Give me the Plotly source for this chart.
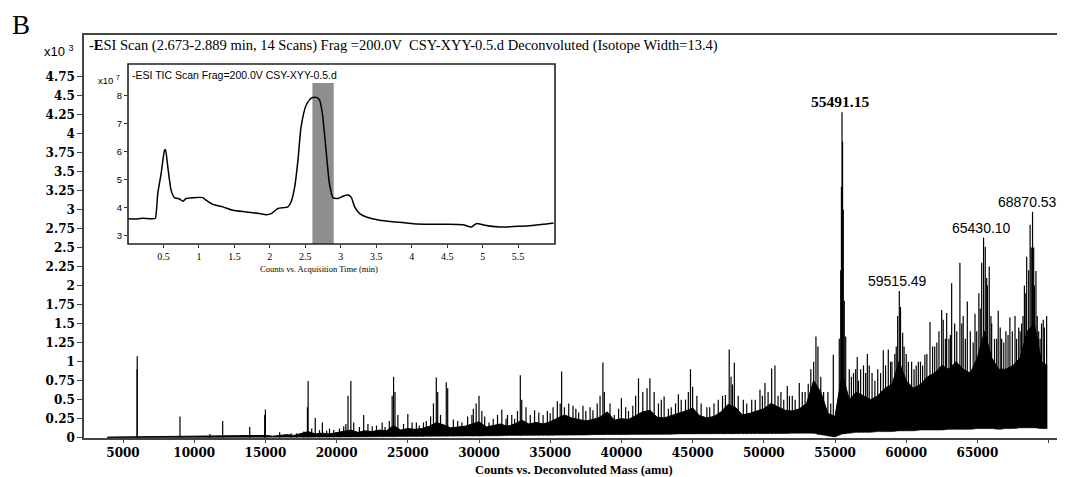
import plotly.graph_objects as go

# ---------------- data ----------------
# Main spectrum, intensities in counts x10^3
band_mass = [3900, 5000, 6000, 7000, 8000, 9000, 10000, 11000, 12000, 13000, 14000,
             15000, 15500, 16000, 16500, 17000, 17500, 18000, 18500, 19000, 19500,
             20000, 20500, 21000, 21500, 22000, 22500, 23000, 23500, 24000, 24500,
             25000, 25500, 26000, 26500, 27000, 27500, 28000, 28500, 29000, 29500,
             30000, 30500, 31000, 31500, 32000, 32500, 33000, 33500, 34000, 34500,
             35000, 35500, 36000, 36500, 37000, 37500, 38000, 38500, 39000, 39500,
             40000, 40500, 41000, 41500, 42000, 42500, 43000, 43500, 44000, 44500,
             45000, 45500, 46000, 46500, 47000, 47500, 48000, 48500, 49000, 49500,
             50000, 50500, 51000, 51500, 52000, 52500, 53000, 53500, 54000, 54500,
             55000, 55500, 56000, 56500, 57000, 57500, 58000, 58500, 59000, 59500,
             60000, 60500, 61000, 61500, 62000, 62500, 63000, 63500, 64000, 64500,
             65000, 65500, 66000, 66500, 67000, 67500, 68000, 68500, 69000, 69500, 69900]
band_high = [0.008, 0.01, 0.01, 0.01, 0.012, 0.012, 0.012, 0.015, 0.02, 0.02, 0.025,
             0.03, 0.02, 0.03, 0.04, 0.03, 0.05, 0.08, 0.05, 0.06, 0.05,
             0.07, 0.08, 0.10, 0.07, 0.09, 0.08, 0.10, 0.09, 0.16, 0.10,
             0.12, 0.11, 0.12, 0.15, 0.20, 0.17, 0.13, 0.14, 0.15, 0.18,
             0.21, 0.14, 0.16, 0.18, 0.15, 0.18, 0.23, 0.18, 0.20, 0.18,
             0.21, 0.26, 0.30, 0.26, 0.24, 0.22, 0.24, 0.27, 0.34, 0.23,
             0.25, 0.24, 0.29, 0.34, 0.36, 0.27, 0.26, 0.29, 0.31, 0.35,
             0.39, 0.29, 0.26, 0.28, 0.34, 0.44, 0.40, 0.30, 0.32, 0.35,
             0.38, 0.45, 0.40, 0.36, 0.35, 0.38, 0.45, 0.75, 0.60, 0.32,
             0.28, 0.85, 0.50, 0.60, 0.55, 0.50, 0.55, 0.65, 0.70, 1.00,
             0.75, 0.65, 0.70, 0.80, 0.85, 0.95, 0.90, 1.00, 0.90, 0.85,
             1.05, 1.40, 1.05, 0.90, 0.90, 0.95, 1.05, 1.40, 1.50, 1.00, 0.95]
band_low = [0.0, 0.0, 0.0, 0.0, 0.0, 0.0, 0.0, 0.0, 0.0, 0.0, 0.0,
            0.003, 0.003, 0.003, 0.003, 0.003, 0.004, 0.005, 0.005, 0.005, 0.005,
            0.006, 0.008, 0.01, 0.01, 0.01, 0.012, 0.012, 0.012, 0.015, 0.015,
            0.015, 0.015, 0.015, 0.018, 0.02, 0.02, 0.02, 0.02, 0.02, 0.02,
            0.02, 0.025, 0.025, 0.025, 0.03, 0.03, 0.03, 0.03, 0.03, 0.03,
            0.03, 0.035, 0.035, 0.035, 0.035, 0.035, 0.04, 0.04, 0.04, 0.04,
            0.04, 0.04, 0.045, 0.045, 0.045, 0.045, 0.045, 0.045, 0.05, 0.05,
            0.05, 0.05, 0.05, 0.05, 0.05, 0.05, 0.05, 0.05, 0.05, 0.05,
            0.05, 0.05, 0.055, 0.055, 0.06, 0.06, 0.06, 0.06, 0.04, 0.02,
            0.01, 0.05, 0.06, 0.07, 0.07, 0.07, 0.08, 0.08, 0.08, 0.09,
            0.09, 0.09, 0.10, 0.10, 0.10, 0.10, 0.11, 0.11, 0.11, 0.11,
            0.12, 0.12, 0.12, 0.11, 0.12, 0.12, 0.13, 0.13, 0.13, 0.12, 0.12]

# prominent peaks
spike_mass = [5990, 6000, 9000, 11100, 12000, 13900, 14950, 15000, 16000, 16800,
              17950, 18000, 18500, 19000, 19500, 20500, 20800, 21000, 21900, 22500,
              23200, 23900, 24000, 24100, 25000, 25600, 26300, 26800, 27000, 27100,
              27700, 27800, 28500, 29200, 29800, 30000, 30200, 30700, 31600, 32000,
              32500, 32900, 33000, 33900, 34500, 35000, 35500, 35800, 36000, 36600,
              37000, 37500, 38000, 38700, 38800, 39500, 40000, 40500, 41200, 41800,
              42000, 42300, 43000, 43500, 44000, 44500, 44850, 45000, 45300, 46000,
              46800, 47300, 47570, 47700, 47930, 48560, 49150, 49730, 50080, 50550,
              50780, 51200, 51650, 52000, 52490, 52700, 53120, 53500, 53660, 53800,
              54000, 54500, 54880, 55300, 55400, 55450, 55491, 55530, 55580, 55650,
              55750, 56000, 56300, 56560, 56800, 57000, 57270, 57600, 58000, 58390,
              58740, 59000, 59200, 59400, 59515, 59600, 59750, 60000, 60380, 60700,
              61000, 61310, 61670, 62000, 62300, 62490, 62600, 62840, 63000, 63190,
              63400, 63770, 64000, 64290, 64500, 64830, 65100, 65300, 65430, 65550,
              65700, 65830, 66000, 66200, 66460, 66700, 67000, 67280, 67640, 67900,
              68100, 68300, 68460, 68600, 68700, 68870, 68950, 69110, 69300, 69500,
              69620, 69860]
spike_height = [0.90, 1.07, 0.28, 0.05, 0.22, 0.14, 0.30, 0.37, 0.07, 0.06,
                0.40, 0.745, 0.26, 0.20, 0.12, 0.15, 0.55, 0.745, 0.30, 0.15,
                0.20, 0.55, 0.80, 0.60, 0.31, 0.20, 0.22, 0.45, 0.79, 0.60,
                0.73, 0.65, 0.22, 0.28, 0.45, 0.55, 0.35, 0.20, 0.37, 0.30,
                0.25, 0.82, 0.50, 0.36, 0.30, 0.32, 0.48, 0.87, 0.40, 0.42,
                0.33, 0.35, 0.36, 0.99, 0.60, 0.30, 0.52, 0.35, 0.78, 0.65,
                0.78, 0.60, 0.54, 0.40, 0.57, 0.50, 0.90, 0.67, 0.55, 0.40,
                0.50, 0.56, 1.16, 0.80, 0.99, 0.50, 0.50, 0.63, 0.72, 0.91,
                0.95, 0.60, 0.68, 0.55, 0.72, 0.60, 0.71, 1.00, 1.33, 1.20,
                0.80, 0.60, 1.09, 1.30, 2.20, 3.30, 4.28, 3.89, 3.00, 1.80,
                1.33, 0.90, 0.85, 1.06, 0.90, 0.95, 1.10, 0.85, 0.90, 1.15,
                1.16, 1.00, 1.10, 1.60, 1.93, 1.72, 1.38, 1.10, 1.00, 0.95,
                1.00, 1.09, 1.52, 1.20, 1.40, 1.68, 1.55, 1.64, 1.30, 2.03,
                1.50, 2.30, 1.60, 1.79, 1.40, 1.63, 1.90, 2.30, 2.63, 2.51,
                2.00, 2.25, 1.50, 1.30, 1.67, 1.30, 1.40, 1.58, 1.60, 1.45,
                1.50, 2.00, 2.38, 2.20, 2.80, 2.97, 2.50, 2.19, 1.40, 1.50,
                1.55, 1.60]

# smaller peaks inside the dense region
minor_mass = [17200, 17700, 18250, 18800, 19300, 19800,
              20200, 20650, 21200, 21600, 22200, 22800, 23400, 23700, 24300, 24700,
              25300, 25800, 26100, 26600, 27300, 28200, 28800, 29500, 29600,
              30400, 31000, 31300, 31900, 32300, 32700, 33300, 33600, 34200, 34800,
              35200, 35700, 36300, 36800, 37300, 37800, 38300, 38500, 39200, 39800,
              40300, 40800, 41000, 41500, 42600, 42800, 43300, 43800, 44200, 44700,
              45600, 46200, 46500, 47100, 47800, 48200, 48800, 49400, 49900,
              50300, 51000, 51400, 51800, 52200, 52900, 53300, 54200, 54700,
              56150, 56450, 56650, 57150, 57400, 57800, 58200, 58550, 58900, 59300, 59850,
              60150, 60550, 60850, 61150, 61450, 61850, 62150, 62750, 63100, 63550,
              63900, 64150, 64700, 64950,
              65200, 65650, 65950, 66350, 66600, 66850, 67150, 67450, 67750, 68000,
              68200, 68400, 68780, 69000, 69200, 69400, 69700]
minor_height = [0.06, 0.08, 0.12, 0.10, 0.09, 0.10,
                0.12, 0.18, 0.20, 0.14, 0.18, 0.16, 0.14, 0.22, 0.30, 0.18,
                0.20, 0.16, 0.20, 0.28, 0.30, 0.24, 0.20, 0.30, 0.38,
                0.28, 0.25, 0.30, 0.25, 0.30, 0.35, 0.40, 0.30, 0.33, 0.35,
                0.40, 0.45, 0.45, 0.38, 0.42, 0.40, 0.45, 0.55, 0.45, 0.38,
                0.40, 0.42, 0.55, 0.60, 0.45, 0.50, 0.38, 0.45, 0.50, 0.60,
                0.45, 0.40, 0.45, 0.55, 0.70, 0.55, 0.45, 0.50, 0.55,
                0.60, 0.55, 0.50, 0.55, 0.50, 0.60, 0.90, 0.60, 0.45,
                0.80, 0.90, 0.75, 0.85, 0.95, 0.75, 0.85, 0.95, 1.00, 1.20, 1.20,
                1.00, 0.90, 1.00, 0.95, 1.10, 1.20, 1.25, 1.30, 1.35, 1.40,
                1.50, 1.30, 1.25, 1.40,
                1.70, 2.10, 1.60, 1.30, 1.45, 1.25, 1.35, 1.40, 1.30, 1.40,
                1.60, 1.90, 2.50, 2.00, 1.60, 1.30, 1.45]

label_mass = [55491.15, 59515.49, 65430.10, 68870.53]
label_height = [4.28, 1.93, 2.63, 2.97]

x_tickvals = [5000, 10000, 15000, 20000, 25000, 30000, 35000, 40000, 45000,
              50000, 55000, 60000, 65000, 70000]
x_ticktext = ["5000", "10000", "15000", "20000", "25000", "30000", "35000", "40000",
              "45000", "50000", "55000", "60000", "65000", " "]
y_tickvals = [0, 0.25, 0.5, 0.75, 1, 1.25, 1.5, 1.75, 2, 2.25, 2.5, 2.75, 3, 3.25,
              3.5, 3.75, 4, 4.25, 4.5, 4.75]
y_ticktext = ["0", "0.25", "0.5", "0.75", "1", "1.25", "1.5", "1.75", "2", "2.25",
              "2.5", "2.75", "3", "3.25", "3.5", "3.75", "4", "4.25", "4.5", "4.75"]

# Inset TIC chromatogram, counts x10^7 vs minutes
tic_time = [0.0, 0.1, 0.2, 0.3, 0.37, 0.387, 0.42, 0.467, 0.514, 0.528, 0.561, 0.608,
            0.655, 0.726, 0.773, 0.82, 0.914, 1.055, 1.10, 1.196, 1.337, 1.478, 1.667,
            1.855, 1.949, 2.02, 2.113, 2.254, 2.30, 2.35, 2.396, 2.44, 2.513, 2.584,
            2.654, 2.70, 2.74, 2.77, 2.805, 2.84, 2.89, 2.96, 3.03, 3.10, 3.148, 3.195,
            3.266, 3.36, 3.55, 3.78, 4.02, 4.25, 4.49, 4.72, 4.84, 4.91, 4.96, 5.03,
            5.24, 5.43, 5.66, 5.90, 6.0]
tic_counts = [3.62, 3.61, 3.63, 3.62, 3.62, 3.64, 4.52, 5.23, 6.05, 6.09, 5.47, 4.63,
              4.37, 4.32, 4.24, 4.34, 4.37, 4.37, 4.28, 4.13, 4.04, 3.92, 3.86,
              3.80, 3.76, 3.80, 3.98, 4.04, 4.22, 4.75, 5.70, 6.90, 7.68, 7.92,
              7.95, 7.86, 7.38, 6.66, 5.71, 4.87, 4.37, 4.34, 4.42, 4.46, 4.38, 4.04,
              3.80, 3.68, 3.56, 3.50, 3.44, 3.42, 3.42, 3.40, 3.32, 3.44, 3.43, 3.38,
              3.32, 3.34, 3.37, 3.43, 3.46]
selected_window = [2.6, 2.9]
inset_xticks = [0.5, 1, 1.5, 2, 2.5, 3, 3.5, 4, 4.5, 5, 5.5]
inset_yticks = [3, 4, 5, 6, 7, 8]

# ---------------- layout geometry ----------------
# The page places the figure 8 px from the window's top-left corner, so the
# figure is sized to end at the window edge; positions below are window pixels.
OFF = 8
WIN_W, WIN_H = 1065, 477
W, H = WIN_W - OFF, WIN_H - OFF
AX_L, AX_T, AX_B = 84, 35, 438          # plot-area edges in window pixels
L, T = AX_L - OFF, AX_T - OFF
B = H - (AX_B - OFF)
R = 0
PW, PH = W - L - R, H - T - B


def px(x):
    return (x - AX_L) / PW


def py(y):
    return (AX_B - y) / PH


SERIF = "Liberation Serif, Times New Roman, serif"
SANS = "Liberation Sans, Arial, sans-serif"
TICKSERIF = "DejaVu Serif, serif"

fig = go.Figure()

# dense band of the spectrum
fig.add_trace(go.Scatter(x=band_mass, y=band_low, mode="lines",
                         line=dict(color="black", width=0.5), showlegend=False,
                         hoverinfo="skip"))
fig.add_trace(go.Scatter(x=band_mass, y=band_high, mode="lines", fill="tonexty",
                         fillcolor="black", line=dict(color="black", width=1),
                         showlegend=False, hoverinfo="skip"))


def base_at(m):
    i = min(range(len(band_mass)), key=lambda k: abs(band_mass[k] - m))
    return band_low[i]


# individual spikes, rising from the floor of the dense band
sx, sy = [], []
for m, h in list(zip(minor_mass, minor_height)) + list(zip(spike_mass, spike_height)):
    sx += [m, m, None]
    sy += [base_at(m), h, None]
fig.add_trace(go.Scatter(x=sx, y=sy, mode="lines", line=dict(color="black", width=1.2),
                         showlegend=False, hoverinfo="skip"))

# inset chromatogram
fig.add_trace(go.Scatter(x=tic_time, y=tic_counts, mode="lines", xaxis="x2", yaxis="y2",
                         line=dict(color="black", width=1.5, shape="spline", smoothing=0.6),
                         showlegend=False, hoverinfo="skip"))

fig.update_layout(
    width=W, height=H,
    margin=dict(l=L, r=R, t=T, b=B, pad=0, autoexpand=False),
    paper_bgcolor="white", plot_bgcolor="rgba(0,0,0,0)",
    xaxis=dict(range=[2261, 71150], tickvals=x_tickvals, ticktext=x_ticktext,
               automargin=False,
               showgrid=False, zeroline=False, showline=True, mirror=True,
               linecolor="#444", linewidth=1.5, ticks="outside", ticklen=3,
               tickcolor="#444", tickfont=dict(family=TICKSERIF, size=12, color="black",
                                              weight="bold")),
    yaxis=dict(range=[-0.004, 5.294], tickvals=y_tickvals, ticktext=y_ticktext,
               automargin=False,
               showgrid=False, zeroline=False, showline=True, linecolor="#444",
               linewidth=1.5, ticks="outside", ticklen=5, tickcolor="#444",
               tickfont=dict(family=TICKSERIF, size=12, color="black", weight="bold")),
    xaxis2=dict(domain=[px(128), px(555)], anchor="y2", range=[0, 6.02],
                automargin=False,
                tickvals=inset_xticks, ticktext=[f"{v:g}" for v in inset_xticks],
                showgrid=False, zeroline=False, showline=False, ticks="outside",
                ticklen=3, tickcolor="#333",
                tickfont=dict(family=SERIF, size=10, color="black")),
    yaxis2=dict(domain=[py(244), py(83)], anchor="x2", range=[2.714, 8.464],
                automargin=False,
                tickvals=inset_yticks, showgrid=False, zeroline=False, showline=False,
                ticks="outside", ticklen=3, tickcolor="#333",
                tickfont=dict(family=SANS, size=9.5, color="black")),
)

# selected window band (inset) and inset frame
fig.add_shape(type="rect", xref="x2", yref="y2 domain", x0=selected_window[0],
              x1=selected_window[1], y0=0, y1=1, fillcolor="#8e8e8e",
              line=dict(width=0), layer="below")
fig.add_shape(type="rect", xref="paper", yref="paper", x0=px(128), x1=px(555),
              y0=py(244), y1=py(64), line=dict(color="#222", width=1.6), layer="above")


def note(x, y, text, font, xanchor="center"):
    return dict(x=px(x), y=py(y), xref="paper", yref="paper", text=text,
                showarrow=False, xanchor=xanchor, yanchor="middle", font=font)


ann = [
    note(21, 25, "B", dict(family=SERIF, size=27, color="black")),
    note(42, 51, "x10 <sup>3</sup>", dict(family=SANS, size=13, color="black"), "left"),
    note(87, 45, "-<b>E</b>SI Scan (2.673-2.889 min, 14 Scans) Frag =200.0V  CSY-XYY-0.5.d Deconvoluted (Isotope Width=13.4)",
         dict(family=SERIF, size=14.5, color="black"), "left"),
    note(574, 470, "<b>Counts vs. Deconvoluted Mass (amu)</b>",
         dict(family=SERIF, size=12.5, color="black")),
    note(130, 75, "-ESI TIC Scan Frag=200.0V CSY-XYY-0.5.d",
         dict(family=SANS, size=10.5, color="black"), "left"),
    note(96, 80, "x10 <sup>7</sup>", dict(family=SANS, size=9.5, color="black"), "left"),
    note(319, 269, "Counts vs. Acquisition Time (min)",
         dict(family=SERIF, size=8.5, color="black")),
]
# peak labels
label_xshift = [-2, -2, -2, -5]
for i, (m, h) in enumerate(zip(label_mass, label_height)):
    if i == 0:
        f = dict(family=SERIF, size=15.5, color="black")
        txt = f"<b>{m:.2f}</b>"
    else:
        f = dict(family=SANS, size=14, color="black")
        txt = f"{m:.2f}"
    ann.append(dict(x=m, y=h, xref="x", yref="y", text=txt, showarrow=False,
                    xanchor="center", yanchor="bottom", xshift=label_xshift[i],
                    font=f))
fig.update_layout(annotations=ann)

fig.write_html("out.html")
